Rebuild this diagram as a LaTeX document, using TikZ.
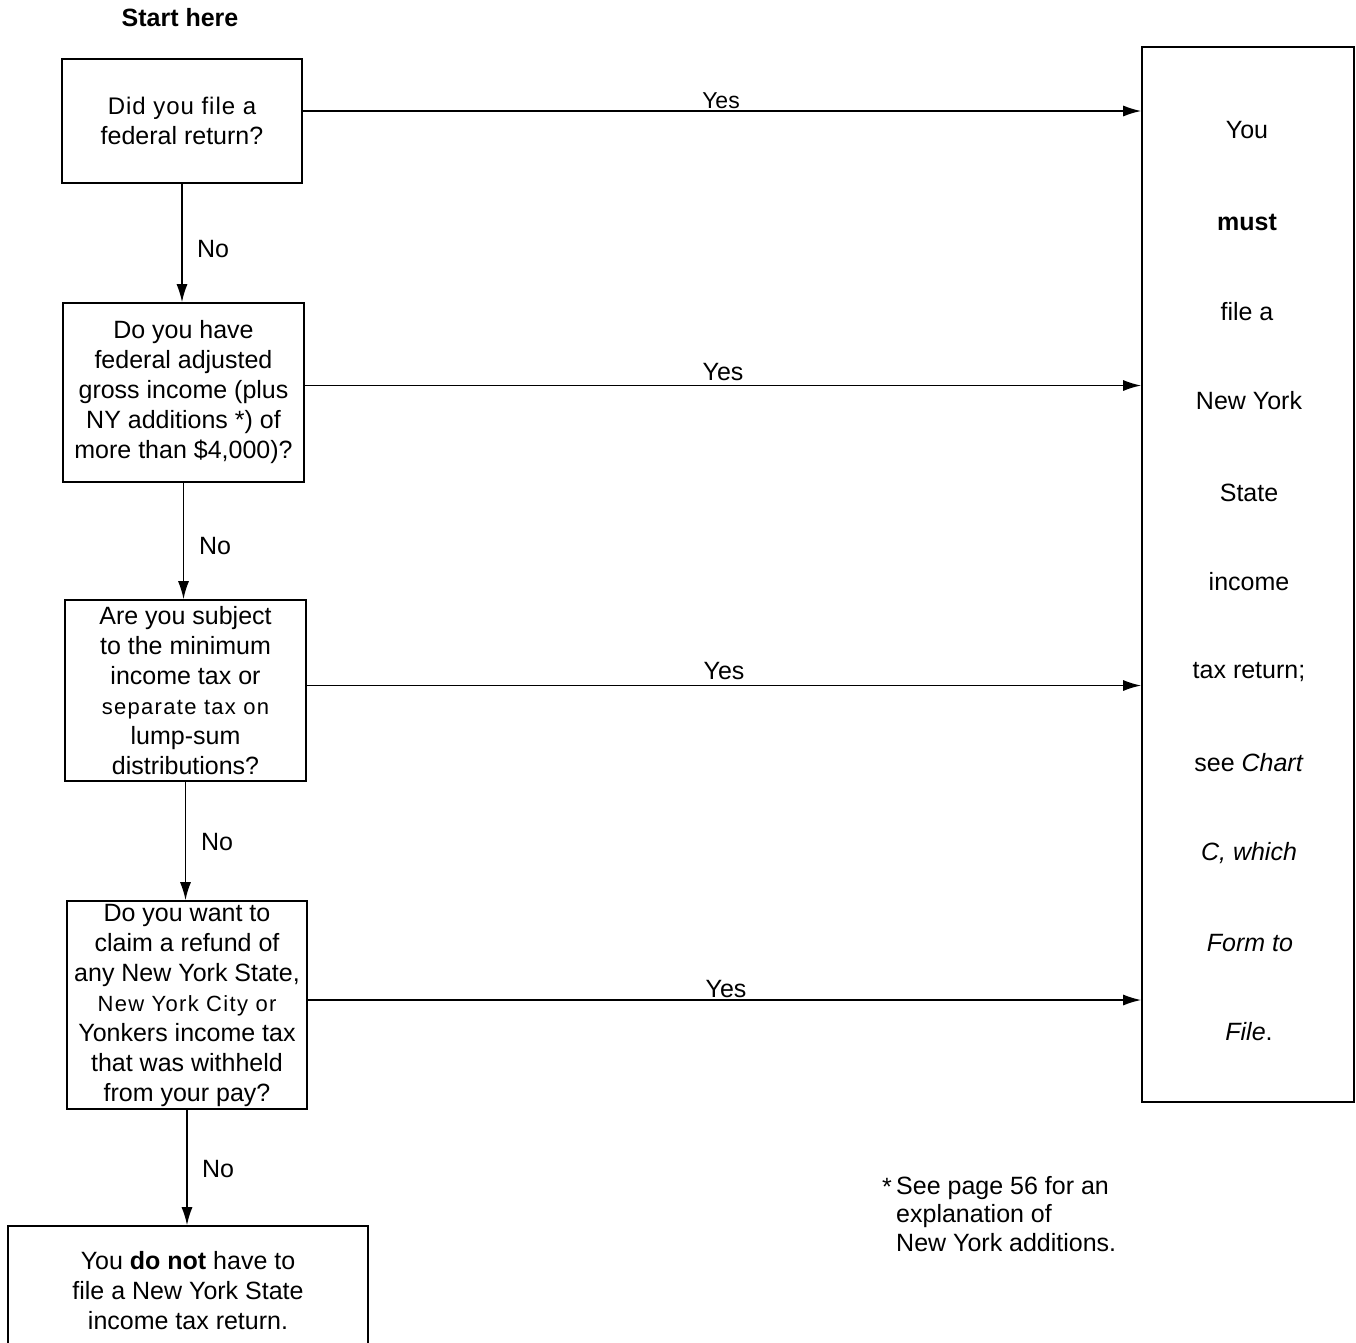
\documentclass[tikz,border=0pt]{standalone}
\usepackage{fontspec}
\setmainfont{Liberation Sans}
\usetikzlibrary{arrows.meta}
\newcommand{\wide}[1]{{\fontsize{22}{30}\selectfont\addfontfeatures{LetterSpace=6}#1}}
\newcommand{\widefirst}[1]{{\fontsize{24}{30}\selectfont\addfontfeatures{LetterSpace=4}#1}}
\begin{document}
\begin{tikzpicture}[x=1pt,y=-1pt,
  box/.style={draw,line width=1.6pt,align=center,inner sep=0pt,font=\fontsize{25}{30}\selectfont},
  arr/.style={line width=1.6pt,-{Latex[length=18pt,width=11pt]}},
  lbl/.style={font=\fontsize{25}{30}\selectfont,inner sep=0pt},
  rt/.style={font=\fontsize{25}{30}\selectfont,inner sep=0pt}]
\useasboundingbox (0,0) rectangle (1356,1342);
\clip (0,0) rectangle (1356,1342);

\node[lbl,font=\fontsize{25}{30}\selectfont\bfseries] (start) at (180,18) {Start here};

\node[box,minimum width=240pt,minimum height=124pt] (b1) at (182,121)
  {\widefirst{Did you file a}\\federal return?};
\node[box,minimum width=241pt,minimum height=179pt] (b2) at (183.5,392.5)
  {Do you have\\federal adjusted\\gross income (plus\\NY additions *) of\\more than \$4,000)?};
\node[box,minimum width=241pt,minimum height=181pt] (b3) at (185.5,690.5)
  {Are you subject\\to the minimum\\income tax or\\\wide{separate tax on}\\lump-sum\\distributions?};
\node[box,minimum width=240pt,minimum height=208pt] (b4) at (187,1005)
  {Do you want to\\claim a refund of\\any New York State,\\\wide{New York City or}\\Yonkers income tax\\that was withheld\\from your pay?};
\node[box,minimum width=360pt,minimum height=130pt] (b5) at (188,1291)
  {You \textbf{do not} have to\\file a New York State\\income tax return.};

\node[draw,line width=1.6pt,minimum width=212pt,minimum height=1055pt] (R) at (1248,574.5) {};

\node[rt] (r1) at (1247,130) {You};
\node[rt,font=\fontsize{25}{30}\selectfont\bfseries] (r2) at (1247,222) {must};
\node[rt] (r3) at (1247,312) {file a};
\node[rt] (r4) at (1249,401) {New York};
\node[rt] (r5) at (1249,493) {State};
\node[rt] (r6) at (1249,582) {income};
\node[rt] (r7) at (1249,672) {tax return;};
\node[rt] (r8) at (1249,763) {see \textit{Chart}};
\node[rt,font=\fontsize{25}{30}\selectfont\itshape] (r9) at (1249,853) {C, which};
\node[rt,font=\fontsize{25}{30}\selectfont\itshape] (r10) at (1250,943) {Form to};
\node[rt] (r11) at (1249,1032) {\textit{File}.};

% vertical No arrows
\draw[arr] (b1.south) -- (b1.south |- b2.north);
\draw[arr] (b2.south) -- (b2.south |- b3.north);
\draw[arr] (b3.south) -- (b3.south |- b4.north);
\draw[arr] (b4.south) -- (b4.south |- b5.north);
\node[lbl] (n1) at (213,249) {No};
\node[lbl] (n2) at (215,546) {No};
\node[lbl] (n3) at (217,842) {No};
\node[lbl] (n4) at (218,1169) {No};

% horizontal Yes arrows
\draw[arr] ([yshift=10pt]b1.east) -- ([yshift=10pt]b1.east -| R.west);
\draw[arr] ([yshift=7pt]b2.east) -- ([yshift=7pt]b2.east -| R.west);
\draw[arr] ([yshift=5pt]b3.east) -- ([yshift=5pt]b3.east -| R.west);
\draw[arr] ([yshift=5pt]b4.east) -- ([yshift=5pt]b4.east -| R.west);
\node[lbl,font=\fontsize{23}{30}\selectfont] (y1) at (721,101) {Yes};
\node[lbl] (y2) at (723,372) {Yes};
\node[lbl] (y3) at (724,671) {Yes};
\node[lbl] (y4) at (726,989) {Yes};

% footnote
\node[lbl,anchor=north east] (star) at (892,1178) {*};
\node[lbl,anchor=north west,align=left,font=\fontsize{25}{28.5}\selectfont] (fn) at (896,1176)
  {See page 56 for an\\explanation of\\New York additions.};
\end{tikzpicture}
\end{document}
